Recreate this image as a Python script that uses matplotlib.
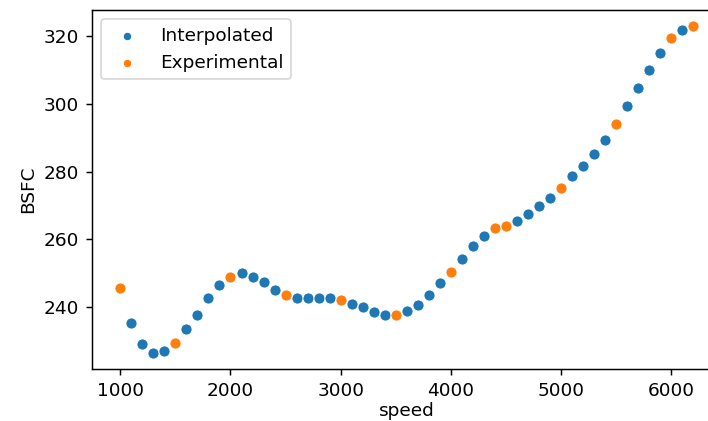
import numpy as np
import matplotlib.pyplot as plt

# interpolated curve (every 100 rpm, points under experimental ones omitted)
interp_speed = [1100, 1200, 1300, 1400, 1600, 1700, 1800, 1900, 2100, 2200,
                2300, 2400, 2600, 2700, 2800, 2900, 3100, 3200, 3300, 3400,
                3600, 3700, 3800, 3900, 4100, 4200, 4300, 4600, 4700, 4800,
                4900, 5100, 5200, 5300, 5400, 5600, 5700, 5800, 5900, 6100]
interp_bsfc = [235.1, 228.9, 226.4, 226.9, 233.3, 237.5, 242.5, 246.4, 249.9, 248.8,
               247.4, 244.9, 242.5, 242.5, 242.5, 242.5, 240.8, 240.0, 238.5, 237.6,
               238.6, 240.6, 243.6, 246.9, 254.2, 258.1, 261.0, 265.5, 267.5, 269.8,
               272.3, 278.6, 281.6, 285.3, 289.3, 299.5, 304.8, 310.1, 315.1, 321.9]

exp_speed = [1000, 1500, 2000, 2500, 3000, 3500, 4000, 4400, 4500, 5000, 5500, 6000, 6200]
exp_bsfc = [245.4, 229.3, 248.8, 243.5, 242.0, 237.6, 250.3, 263.4, 263.9, 275.1, 294.1, 319.4, 323.0]

k = 1.108  # reference was rendered a bit larger than 120 dpi
plt.rcParams.update({
    "font.size": 10 * k,
    "xtick.major.size": 3.5 * k, "ytick.major.size": 3.5 * k,
    "xtick.major.pad": 3.5 * k, "ytick.major.pad": 3.5 * k,
    "xtick.major.width": 0.8 * k, "ytick.major.width": 0.8 * k,
    "axes.linewidth": 0.8 * k,
})

fig = plt.figure(figsize=(708 / 120, 421 / 120), dpi=120)
ax = fig.add_axes([0.1295, 0.1235, 0.890, 0.8527])

ax.scatter(interp_speed, interp_bsfc, s=36 * k * k, color="#1f77b4", edgecolor="w",
           linewidth=0.5, label="Interpolated")
ax.scatter(exp_speed, exp_bsfc, s=36 * k * k, color="#ff7f0e", edgecolor="w",
           linewidth=0.5, label="Experimental")

ax.set_xticks([1000, 2000, 3000, 4000, 5000, 6000])
ax.set_yticks([240, 260, 280, 300, 320])
ax.set_xlabel("speed", labelpad=1)
ax.set_ylabel("BSFC")
ax.legend(loc="upper left", markerscale=0.75)

fig.savefig("out.png", dpi=120)
plt.close()
